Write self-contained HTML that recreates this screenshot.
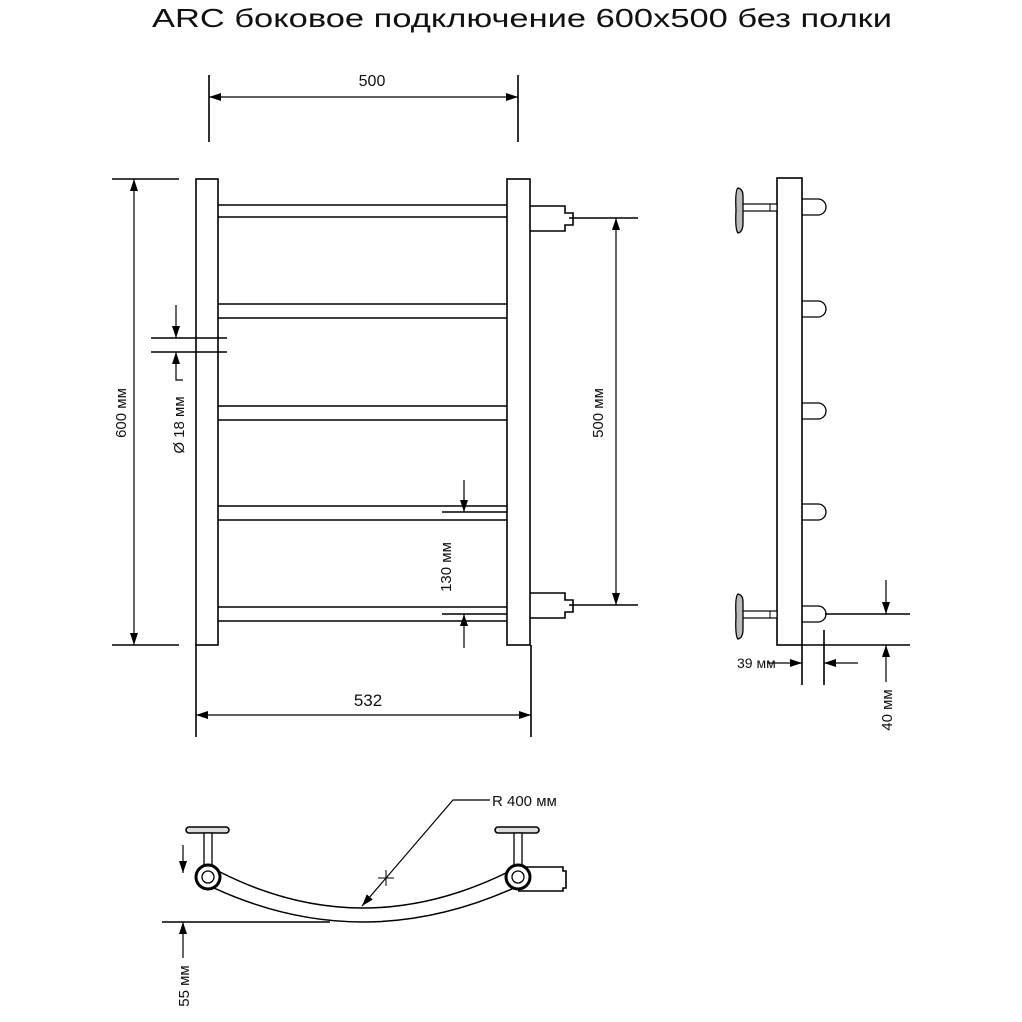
<!DOCTYPE html>
<html><head><meta charset="utf-8"><style>
html,body{margin:0;padding:0;background:#fff;}
svg{display:block;}
text{font-family:"Liberation Sans","DejaVu Sans",sans-serif;fill:#111;}
</style></head><body>
<svg width="1022" height="1022" viewBox="0 0 1022 1022" xmlns="http://www.w3.org/2000/svg">
<defs>
<marker id="a" markerWidth="12" markerHeight="8" refX="12" refY="4" orient="auto-start-reverse" markerUnits="userSpaceOnUse">
<path d="M0,0 L12,4 L0,8 Z" fill="#000"/></marker>
</defs>
<text x="522" y="27" text-anchor="middle" font-size="26" textLength="740" lengthAdjust="spacingAndGlyphs" fill="#222">ARC боковое подключение 600х500 без полки</text>

<g stroke="#000" stroke-width="1.6" fill="none">
<rect x="196" y="179" width="22" height="466" fill="#fff"/>
<rect x="507" y="179" width="23" height="466" fill="#fff"/>
<path d="M218,205H507M218,217H507M218,304H507M218,318H507M218,406H507M218,420H507M218,506H507M218,520H507M218,607H507M218,621H507"/>
<path d="M530,206H565V213H573V225H565V231H530"/>
<path d="M530,593H565V600H573V612H565V618H530"/>
<path d="M209,75V142M518,75V142"/>
<path d="M209,97H518" marker-end="url(#a)" marker-start="url(#a)" stroke-width="1.2"/>
<path d="M196,645V737M531,645V737"/>
<path d="M196,715H531" marker-end="url(#a)" marker-start="url(#a)" stroke-width="1.2"/>
<path d="M112,179H179M112,645H179"/>
<path d="M134,179V645" marker-end="url(#a)" marker-start="url(#a)" stroke-width="1.2"/>
<path d="M569,218H638M569,605H638"/>
<path d="M616,218V605" marker-end="url(#a)" marker-start="url(#a)" stroke-width="1.2"/>
<path d="M151,338H227M151,352H227"/>
<path d="M176,305V338" marker-end="url(#a)" stroke-width="1.2"/>
<path d="M183,380H176V352" marker-end="url(#a)" stroke-width="1.2"/>
<path d="M442,512H507M442,614H507"/>
<path d="M464,480V512" marker-end="url(#a)" stroke-width="1.2"/>
<path d="M464,648V614" marker-end="url(#a)" stroke-width="1.2"/>

<rect x="777" y="178" width="25" height="467" fill="#fff"/>
<path d="M802,199H818A8,8 0 0 1 818,215H802M802,301H818A8,8 0 0 1 818,317H802M802,403H818A8,8 0 0 1 818,419H802M802,504H818A8,8 0 0 1 818,520H802M802,606H818A8,8 0 0 1 818,622H802" stroke-width="1.3"/>
<rect x="742" y="204" width="35" height="7" fill="#fff" stroke-width="1.2"/>
<path d="M770,204V211" stroke-width="1"/>
<path d="M738,188Q743,189 743,196V223Q743,232 738,233Q735,230 736,210Q735,190 738,188Z" fill="#bbb" stroke-width="1.3"/>
<rect x="742" y="611" width="35" height="7" fill="#fff" stroke-width="1.2"/>
<path d="M770,611V618" stroke-width="1"/>
<path d="M738,594Q743,595 743,602V629Q743,638 738,639Q735,636 736,616Q735,596 738,594Z" fill="#bbb" stroke-width="1.3"/>
<path d="M825,614H910M802,645H910"/>
<path d="M886,580V614" marker-end="url(#a)" stroke-width="1.2"/>
<path d="M886,682V645" marker-end="url(#a)" stroke-width="1.2"/>
<path d="M802,645V685M824,630V685"/>
<path d="M768,663H802" marker-end="url(#a)" stroke-width="1.2"/>
<path d="M858,663H824" marker-end="url(#a)" stroke-width="1.2"/>

<path d="M220,872Q362,944 508,872" stroke-width="1.5"/>
<path d="M214,888Q362,956 514,888" stroke-width="1.5"/>
<path d="M162,922H330"/>
<rect x="186" y="827" width="43" height="6" rx="3" fill="#ddd"/>
<rect x="204" y="833" width="8" height="33" fill="#fff" stroke-width="1.3"/>
<circle cx="208" cy="877" r="12" fill="#fff" stroke-width="3"/>
<circle cx="208" cy="877" r="6" stroke-width="1.3"/>
<rect x="495" y="827" width="44" height="6" rx="3" fill="#ddd"/>
<rect x="514" y="833" width="8" height="33" fill="#fff" stroke-width="1.3"/>
<path d="M518,867H563V871H566V888H563V891H518"/>
<circle cx="518" cy="877" r="12" fill="#fff" stroke-width="3"/>
<circle cx="518" cy="877" r="6" stroke-width="1.3"/>
<path d="M183,845V873" marker-end="url(#a)" stroke-width="1.2"/>
<path d="M183,958V922" marker-end="url(#a)" stroke-width="1.2"/>
<path d="M490,800H453L362,906" marker-end="url(#a)" stroke-width="1.2"/>
<path d="M378,878H394M386,870V886" stroke-width="1"/>
</g>

<text x="372" y="86" text-anchor="middle" font-size="16">500</text>
<text x="368" y="706" text-anchor="middle" font-size="17">532</text>
<text transform="translate(126,413) rotate(-90)" text-anchor="middle" font-size="15">600 мм</text>
<text transform="translate(603,413) rotate(-90)" text-anchor="middle" font-size="15">500 мм</text>
<text transform="translate(184,425) rotate(-90)" text-anchor="middle" font-size="15">Ø 18 мм</text>
<text transform="translate(451,567) rotate(-90)" text-anchor="middle" font-size="15">130 мм</text>
<text transform="translate(892,710) rotate(-90)" text-anchor="middle" font-size="15">40 мм</text>
<text x="737" y="668" font-size="14">39 мм</text>
<text transform="translate(189,986) rotate(-90)" text-anchor="middle" font-size="15">55 мм</text>
<text x="492" y="806" font-size="15">R 400 мм</text>
</svg>
</body></html>
